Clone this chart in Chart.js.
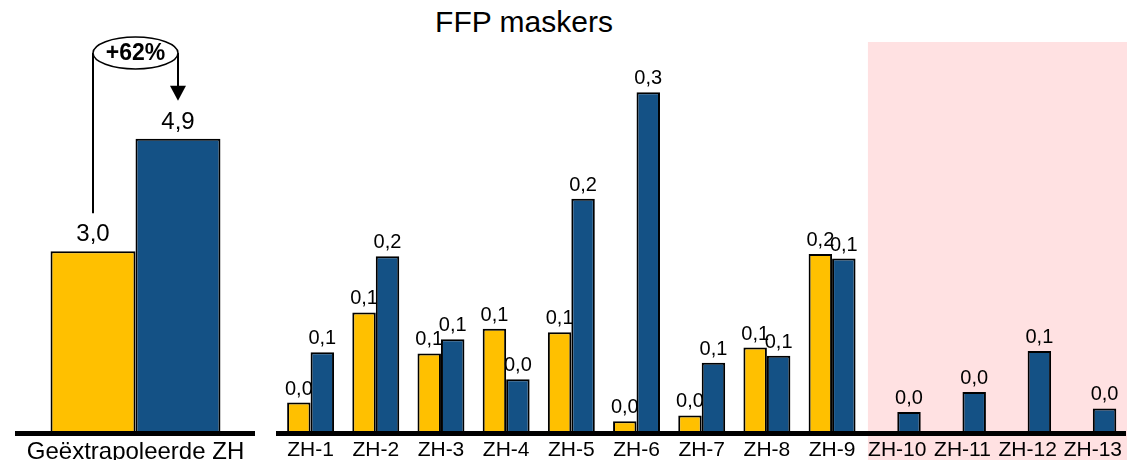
<!DOCTYPE html>
<html>
<head>
<meta charset="utf-8">
<script src="https://cdn.jsdelivr.net/npm/chart.js@4"></script>
<style>
  body { margin: 0; background: #fff; width: 1127px; height: 460px; position: relative; overflow: hidden; }
  #title { position: absolute; top: 5px; left: 424px; width: 200px; text-align: center;
           font: 30px "Liberation Sans", Arial, sans-serif; color: #000; }
  #leftChart { position: absolute; left: 0; top: 0; }
  #rightChart { position: absolute; left: 270px; top: 0; }
</style>
</head>
<body>
<div id="title">FFP maskers</div>
<canvas id="leftChart" width="270" height="460"></canvas>
<canvas id="rightChart" width="857" height="460"></canvas>
<script>
// Totals (extrapolated)
const totalLabels = ["Geëxtrapoleerde ZH"];
const totalBefore = [3.02];
const totalAfter = [4.89];
const totalChangeText = "+62%";

// Per region
const regions = ["ZH-1", "ZH-2", "ZH-3", "ZH-4", "ZH-5", "ZH-6", "ZH-7", "ZH-8", "ZH-9", "ZH-10", "ZH-11", "ZH-12", "ZH-13"];
const regionBefore = [0.026, 0.103, 0.068, 0.089, 0.086, 0.010, 0.015, 0.073, 0.153, null, null, null, null];
const regionAfter  = [0.069, 0.151, 0.080, 0.046, 0.200, 0.291, 0.060, 0.066, 0.149, 0.018, 0.035, 0.070, 0.021];
const shadedFrom = 9; // ZH-10 onwards

const YELLOW = "#FFC000";
const BLUE = "#145185";
const FONT = "'Liberation Sans', Arial, sans-serif";

function fmt(v) {
  return v.toFixed(1).replace(".", ",");
}

// value labels above every bar
function valueLabels(size, gap) {
  return {
    id: "valueLabels",
    afterDatasetsDraw(chart) {
      const ctx = chart.ctx;
      ctx.save();
      ctx.font = size + "px " + FONT;
      ctx.fillStyle = "#000";
      ctx.textAlign = "center";
      ctx.textBaseline = "alphabetic";
      chart.data.datasets.forEach((ds, i) => {
        chart.getDatasetMeta(i).data.forEach((bar, j) => {
          const v = ds.data[j];
          if (v === null || v === undefined) return;
          ctx.fillText(fmt(v), bar.x, bar.y - gap);
        });
      });
      ctx.restore();
    }
  };
}

// the +62% bubble with arrow
const changeArrow = {
  id: "changeArrow",
  afterDatasetsDraw(chart) {
    const ctx = chart.ctx;
    const b0 = chart.getDatasetMeta(0).data[0];
    const b1 = chart.getDatasetMeta(1).data[0];
    const cy = 53;
    const cx = (b0.x + b1.x) / 2;
    const rx = (b1.x - b0.x) / 2;
    ctx.save();
    ctx.strokeStyle = "#000";
    ctx.lineWidth = 2;
    ctx.beginPath();
    ctx.moveTo(b0.x, cy);
    ctx.lineTo(b0.x, b0.y - 38);
    ctx.stroke();
    const tipY = b1.y - 38;
    ctx.beginPath();
    ctx.moveTo(b1.x, cy);
    ctx.lineTo(b1.x, tipY - 12);
    ctx.stroke();
    ctx.fillStyle = "#000";
    ctx.beginPath();
    ctx.moveTo(b1.x - 8, tipY - 15);
    ctx.lineTo(b1.x + 8, tipY - 15);
    ctx.lineTo(b1.x, tipY);
    ctx.closePath();
    ctx.fill();
    ctx.beginPath();
    ctx.ellipse(cx, cy, rx, 16, 0, 0, Math.PI * 2);
    ctx.fillStyle = "#fff";
    ctx.fill();
    ctx.lineWidth = 1.5;
    ctx.stroke();
    ctx.fillStyle = "#000";
    ctx.font = "bold 23px " + FONT;
    ctx.textAlign = "center";
    ctx.textBaseline = "middle";
    ctx.fillText(totalChangeText, cx, cy + 1);
    ctx.restore();
  }
};

// pink background behind ZH-10..ZH-13
const shadedArea = {
  id: "shadedArea",
  beforeDraw(chart) {
    const x = chart.scales.x;
    const left = x.getPixelForValue(shadedFrom - 0.45);
    const ctx = chart.ctx;
    ctx.save();
    ctx.fillStyle = "#ffe1e2";
    ctx.fillRect(left, chart.chartArea.top, chart.width - left, chart.height - chart.chartArea.top);
    ctx.restore();
  }
};

function barSet(data, color) {
  return {
    data: data,
    backgroundColor: color,
    borderColor: "#000",
    borderWidth: 2,
    borderSkipped: "start"
  };
}

function xAxis(fontSize) {
  return {
    offset: true,
    grid: { display: false, drawTicks: false },
    border: { display: true, color: "#000", width: 5, z: 1 },
    ticks: { color: "#000", font: { family: FONT, size: fontSize }, padding: 5, maxRotation: 0, autoSkip: false },
    afterFit(scale) { scale.height = 27; }
  };
}

new Chart(document.getElementById("leftChart"), {
  type: "bar",
  data: {
    labels: totalLabels,
    datasets: [barSet(totalBefore, YELLOW), barSet(totalAfter, BLUE)]
  },
  options: {
    responsive: false,
    animation: false,
    devicePixelRatio: 1,
    layout: { padding: { left: 17, right: 16, top: 40, bottom: 0 } },
    plugins: { legend: { display: false }, tooltip: { enabled: false } },
    datasets: { bar: { categoryPercentage: 0.717, barPercentage: 1 } },
    scales: {
      x: xAxis(24),
      y: { display: false, min: 0, max: 6.53 }
    }
  },
  plugins: [valueLabels(24, 10), changeArrow]
});

new Chart(document.getElementById("rightChart"), {
  type: "bar",
  data: {
    labels: regions,
    datasets: [barSet(regionBefore, YELLOW), barSet(regionAfter, BLUE)]
  },
  options: {
    responsive: false,
    animation: false,
    devicePixelRatio: 1,
    layout: { padding: { left: 8, right: 0, top: 42, bottom: 0 } },
    plugins: { legend: { display: false }, tooltip: { enabled: false } },
    datasets: { bar: { categoryPercentage: 0.72, barPercentage: 1 } },
    scales: {
      x: xAxis(21),
      y: { display: false, min: 0, max: 0.334 }
    }
  },
  plugins: [shadedArea, valueLabels(20, 8)]
});
</script>
</body>
</html>
